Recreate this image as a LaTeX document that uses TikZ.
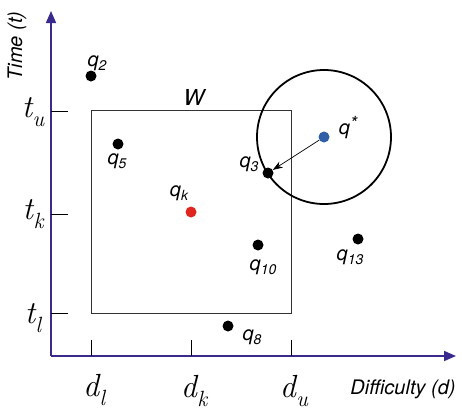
\documentclass[tikz,border=0pt]{standalone}
\usepackage{fontspec}
\setsansfont{TeX Gyre Heros}
\usetikzlibrary{arrows.meta}
\definecolor{axisblue}{HTML}{3B2A8E}
\definecolor{qred}{HTML}{E0261E}
\definecolor{qblue}{HTML}{2F5FA8}
\newcommand{\qsub}[1]{q\raisebox{-0.22em}{\fontsize{14}{14}\selectfont #1}}
\newcommand{\qsup}[1]{q\raisebox{0.25em}{\fontsize{18}{18}\selectfont #1}}
\newcommand{\msub}[2]{#1\kern0.5pt\raisebox{-0.28em}{\fontsize{22}{22}\selectfont #2}}
\begin{document}
\begin{tikzpicture}[x=1pt,y=-1pt,
  axis/.style={draw=axisblue,line width=1.6pt,-{Triangle[length=12pt,width=10pt]}},
  tick/.style={draw=black,line width=0.8pt},
  dot/.style={circle,fill=black,inner sep=0pt,minimum size=11pt},
  qlab/.style={font=\sffamily\itshape\fontsize{20}{20}\selectfont,inner sep=1pt},
  mlab/.style={font=\rmfamily\itshape\fontsize{32}{32}\selectfont,inner sep=0pt},
  alab/.style={font=\sffamily\itshape\fontsize{20}{20}\selectfont,inner sep=0pt}]
\useasboundingbox (0,0) rectangle (462,413);
\coordinate (O) at (51,356);
\coordinate (Ytip) at (51,11);
\coordinate (Xtip) at (456,356);
\draw[axis] (O) -- (Ytip);
\draw[axis] (O) -- (Xtip);
% y ticks
\coordinate (tu) at (51,111); \coordinate (tue) at (68,111);
\coordinate (tk) at (51,214); \coordinate (tke) at (68,214);
\coordinate (tl) at (51,313); \coordinate (tle) at (68,313);
\draw[tick] (tu) -- (tue); \draw[tick] (tk) -- (tke); \draw[tick] (tl) -- (tle);
% x ticks
\coordinate (dl) at (91,356); \coordinate (dle) at (91,340);
\coordinate (dk) at (191,356); \coordinate (dke) at (191,340);
\coordinate (du) at (291,356); \coordinate (due) at (291,340);
\draw[tick] (dl) -- (dle); \draw[tick] (dk) -- (dke); \draw[tick] (du) -- (due);
% labels
\node[mlab] (ltu) at (33,112) {\msub{t}{u}};
\node[mlab] (ltk) at (33,214) {\msub{t}{k}};
\node[mlab] (ltl) at (33,318) {\msub{t}{l}};
\node[mlab] (ldl) at (94,390) {\msub{d}{l}};
\node[mlab] (ldk) at (194,391) {\msub{d}{k}};
\node[mlab] (ldu) at (294,391) {\msub{d}{u}};
\node[alab,rotate=90] (ylab) at (17,46) {Time (t)};
\node[alab] (xlab) at (403,389) {Difficulty (d)};
% window
\draw[line width=0.8pt,draw=black!80] (91,110) rectangle (291,313);
\node[alab,font=\sffamily\itshape\fontsize{22}{22}\selectfont] (W) at (194,97) {W};
% circle
\node[circle,draw=black,line width=1.8pt,minimum size=134pt,inner sep=0pt] (C) at (324,137) {};
% points
\node[dot] (q2) at (91,76) {};
\node[dot] (q5) at (118,144) {};
\node[dot] (q3) at (268,173) {};
\node[dot,fill=qblue] (qs) at (324,137) {};
\node[dot,fill=qred] (qk) at (191,212) {};
\node[dot] (q10) at (258,245) {};
\node[dot] (q13) at (358,239) {};
\node[dot] (q8) at (228,326) {};
\draw[line width=0.7pt,-{Stealth[length=10pt,width=7pt]}] (qs) -- (q3);
\node[qlab] (lq2) at (97,63) {\qsub{2}};
\node[qlab] (lq5) at (117,161) {\qsub{5}};
\node[qlab] (lq3) at (249,164) {\qsub{3}};
\node[qlab] (lqs) at (348,128) {\qsup{*}};
\node[qlab] (lqk) at (179,193) {\qsub{k}};
\node[qlab] (lq10) at (263,267) {\qsub{10}};
\node[qlab] (lq13) at (350,257) {\qsub{13}};
\node[qlab] (lq8) at (252,337) {\qsub{8}};
\end{tikzpicture}
\end{document}
